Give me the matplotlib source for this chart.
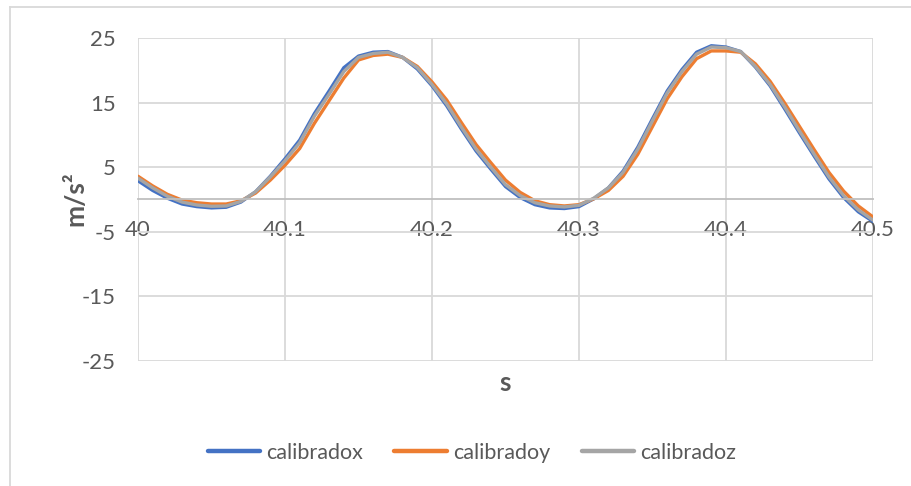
import numpy as np
import matplotlib.pyplot as plt
from matplotlib.lines import Line2D

plt.rcParams['font.family'] = ['Lato', 'DejaVu Sans']
plt.rcParams['axes.unicode_minus'] = False

# time in seconds, acceleration in m/s^2
t = np.round(np.arange(40.0, 40.5001, 0.01), 2)

calibradox = [2.9, 1.4, 0.2, -0.7, -1.1, -1.3, -1.2, -0.4, 1.2, 3.6,
              6.3, 9.2, 13.3, 16.8, 20.4, 22.2, 22.8, 22.9, 22.0, 20.2,
              17.6, 14.5, 10.9, 7.5, 4.7, 2.0, 0.3, -0.8, -1.3, -1.4,
              -1.1, 0.1, 1.8, 4.4, 8.1, 12.5, 16.8, 20.1, 22.8, 23.8,
              23.6, 22.9, 20.5, 17.6, 14.0, 10.3, 6.7, 3.2, 0.3, -1.9,
              -3.4]
calibradoy = [3.6, 2.1, 0.8, -0.1, -0.5, -0.7, -0.7, -0.2, 1.0, 3.0,
              5.3, 7.9, 11.8, 15.3, 18.8, 21.6, 22.3, 22.5, 22.0, 20.6,
              18.2, 15.4, 11.9, 8.5, 5.7, 3.0, 1.1, -0.2, -0.8, -1.0,
              -0.8, 0.1, 1.4, 3.6, 7.0, 11.3, 15.6, 19.0, 21.8, 23.0,
              23.0, 22.8, 21.0, 18.3, 14.9, 11.3, 7.7, 4.2, 1.3, -1.0,
              -2.7]
calibradoz = [3.3, 1.8, 0.5, -0.4, -0.85, -1.05, -1.0, -0.3, 1.2, 3.5,
              6.0, 8.8, 12.9, 16.3, 19.8, 22.0, 22.6, 22.8, 22.0, 20.4,
              17.8, 14.8, 11.2, 7.8, 5.0, 2.3, 0.6, -0.5, -1.0, -1.15,
              -0.9, 0.2, 1.8, 4.2, 7.8, 12.2, 16.5, 19.8, 22.5, 23.6,
              23.5, 22.9, 20.6, 17.8, 14.3, 10.6, 7.0, 3.5, 0.6, -1.6,
              -3.2]

yticks = [25, 15, 5, -5, -15, -25]
xticks = [40.0, 40.1, 40.2, 40.3, 40.4, 40.5]
xticklabels = ['40', '40.1', '40.2', '40.3', '40.4', '40.5']

W, H = 911, 486
fig = plt.figure(figsize=(W / 100, H / 100), dpi=100)
ax = fig.add_axes([138 / W, 1 - 361 / H, (873 - 138) / W, (361 - 38) / H])

grid_col = '#D9D9D9'
text_col = '#595959'

ax.plot(t, calibradox, color='#4472C4', lw=2.4, label='calibradox', solid_capstyle='round')
ax.plot(t, calibradoy, color='#ED7D31', lw=2.4, label='calibradoy', solid_capstyle='round')
ax.plot(t, calibradoz, color='#A5A5A5', lw=2.4, label='calibradoz', solid_capstyle='round')

ax.set_xlim(40.0, 40.5)
ax.set_ylim(-25, 25)
ax.set_yticks(yticks)
ax.set_xticks(xticks)
ax.set_xticklabels(xticklabels)
ax.grid(True, color=grid_col, lw=1.3, zorder=0)
ax.set_axisbelow(True)

for side in ['top', 'right', 'left']:
    ax.spines[side].set_visible(False)
ax.spines['bottom'].set_position(('data', 0))
ax.spines['bottom'].set_color('#BFBFBF')
ax.spines['bottom'].set_linewidth(1.3)

ax.tick_params(axis='both', length=0, labelsize=16, labelcolor=text_col)
ax.tick_params(axis='x', pad=15)
ax.tick_params(axis='y', pad=16)

fig.text(75 / W, 1 - 199 / H, 'm/s²', rotation=90, fontsize=19, fontweight='bold',
         color=text_col, ha='center', va='center')
fig.text(505 / W, 1 - 383 / H, 's', fontsize=19, fontweight='bold',
         color=text_col, ha='center', va='center')

# chart area border (left and top edges)
fig.add_artist(Line2D([10 / W, 10 / W], [0, 1 - 7 / H], color=grid_col, lw=1.3))
fig.add_artist(Line2D([10 / W, 1], [1 - 7 / H, 1 - 7 / H], color=grid_col, lw=1.3))

leg = fig.legend(loc='center', bbox_to_anchor=(472 / W, 1 - 453 / H), ncol=3,
                 frameon=False, fontsize=15.5, handlelength=2.45, handletextpad=0.28,
                 columnspacing=1.45, labelcolor=text_col)
for line in leg.get_lines():
    line.set_linewidth(3.2)

fig.savefig('out.png', dpi=100)
